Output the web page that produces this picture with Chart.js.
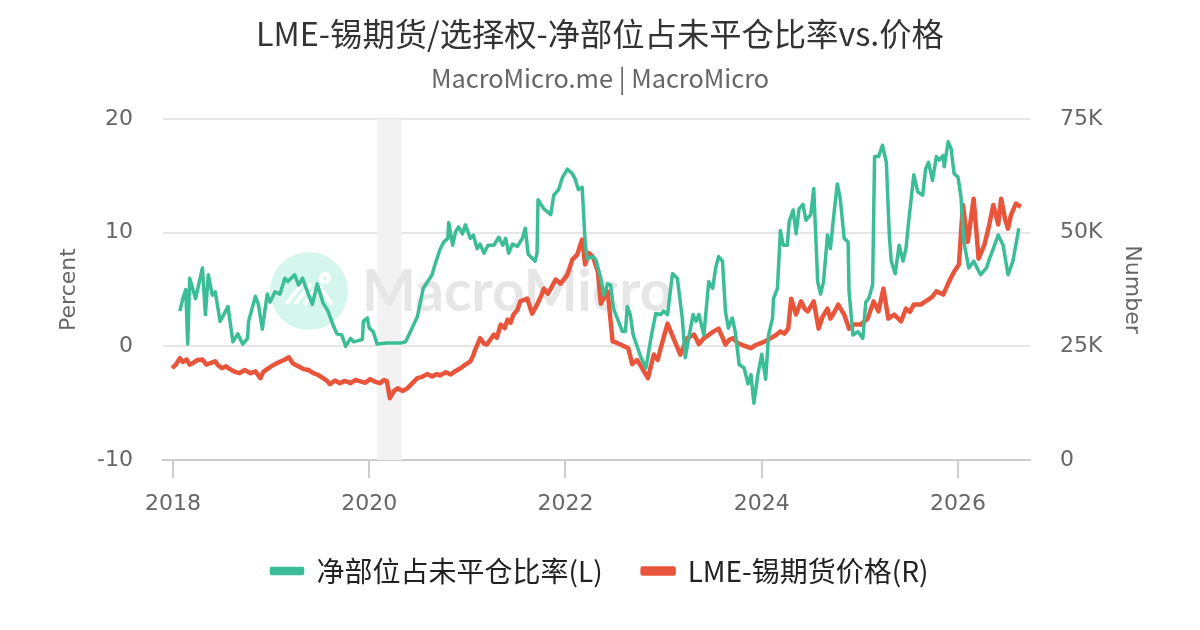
<!DOCTYPE html>
<html>
<head>
<meta charset="utf-8">
<script src="https://cdn.jsdelivr.net/npm/chart.js@4.4.1/dist/chart.umd.min.js"></script>
<style>
  html, body { margin: 0; padding: 0; background: #fff; }
  #wrap { width: 1200px; height: 630px; position: relative; }
</style>
</head>
<body>
<div id="wrap"><canvas id="c" width="1200" height="630"></canvas></div>
<script>
// ---- Data (dates as decimal years) ----
const ratioDates = [2018.07,2018.10,2018.13,2018.15,2018.17,2018.20,2018.23,2018.30,2018.33,2018.36,2018.40,2018.43,2018.48,2018.56,2018.61,2018.66,2018.71,2018.76,2018.77,2018.84,2018.87,2018.91,2018.96,2018.99,2019.04,2019.09,2019.14,2019.17,2019.24,2019.28,2019.32,2019.37,2019.42,2019.47,2019.53,2019.58,2019.63,2019.67,2019.72,2019.76,2019.81,2019.84,2019.93,2019.94,2019.98,2020.00,2020.04,2020.08,2020.18,2020.32,2020.37,2020.42,2020.49,2020.55,2020.64,2020.67,2020.72,2020.76,2020.80,2020.81,2020.85,2020.88,2020.91,2020.95,2020.98,2021.03,2021.06,2021.10,2021.13,2021.17,2021.21,2021.27,2021.32,2021.36,2021.39,2021.42,2021.46,2021.51,2021.56,2021.59,2021.62,2021.69,2021.71,2021.72,2021.78,2021.85,2021.88,2021.93,2021.97,2022.02,2022.07,2022.10,2022.13,2022.17,2022.20,2022.22,2022.28,2022.31,2022.36,2022.39,2022.43,2022.46,2022.49,2022.54,2022.58,2022.61,2022.63,2022.66,2022.69,2022.77,2022.82,2022.87,2022.92,2022.97,2023.00,2023.04,2023.09,2023.14,2023.19,2023.22,2023.30,2023.33,2023.36,2023.41,2023.46,2023.50,2023.53,2023.56,2023.60,2023.63,2023.66,2023.70,2023.73,2023.77,2023.82,2023.86,2023.89,2023.92,2023.96,2024.00,2024.04,2024.07,2024.11,2024.12,2024.16,2024.19,2024.22,2024.26,2024.28,2024.32,2024.35,2024.38,2024.42,2024.45,2024.50,2024.53,2024.57,2024.60,2024.63,2024.67,2024.70,2024.73,2024.77,2024.80,2024.84,2024.88,2024.89,2024.93,2024.98,2025.03,2025.06,2025.09,2025.13,2025.15,2025.19,2025.23,2025.27,2025.30,2025.32,2025.36,2025.40,2025.44,2025.47,2025.50,2025.55,2025.59,2025.64,2025.67,2025.70,2025.74,2025.78,2025.81,2025.85,2025.86,2025.90,2025.93,2025.96,2026.00,2026.03,2026.06,2026.11,2026.16,2026.23,2026.29,2026.32,2026.36,2026.41,2026.46,2026.51,2026.56,2026.62];
const ratioValues = [3.1,4.2,5.0,0.2,6.0,5.1,4.2,6.9,2.8,6.3,4.5,4.8,2.2,3.5,0.4,1.1,0.2,0.7,2.2,4.4,3.7,1.5,4.6,3.9,4.8,4.6,6.0,5.7,6.3,5.4,6.0,4.8,3.7,5.5,3.8,3.1,1.9,1.1,1.0,0.0,0.7,0.4,0.6,2.2,2.5,1.6,1.3,0.2,0.3,0.3,0.4,1.3,2.6,5.1,6.3,7.2,8.5,9.2,9.5,10.9,8.9,10.1,10.5,9.9,10.7,9.5,9.8,8.6,9.0,8.2,8.9,8.9,9.6,8.9,9.5,8.2,9.0,8.8,9.5,10.4,8.1,7.5,8.2,12.9,12.1,11.6,13.3,13.8,14.9,15.6,15.2,14.7,13.8,14.0,9.2,7.7,7.9,7.6,6.0,4.5,5.5,5.4,3.3,2.2,1.3,1.3,3.5,2.8,1.0,-1.0,-1.9,0.7,2.9,2.8,3.1,2.8,6.4,6.0,2.5,-1.0,2.8,2.2,2.8,1.0,5.7,5.1,6.9,7.9,7.5,3.1,1.6,2.5,1.3,-1.6,-1.9,-3.3,-2.5,-5.0,-2.5,-0.7,-2.9,1.0,2.5,4.2,5.1,10.2,8.9,8.9,11.0,12.0,9.9,12.1,12.5,11.1,11.6,13.9,5.7,4.6,5.7,9.8,8.6,11.2,14.3,13.0,9.5,9.2,4.8,1.0,1.3,0.7,3.9,4.2,5.4,16.7,16.7,17.7,16.2,9.8,7.5,6.4,8.9,7.5,8.6,11.2,15.1,13.6,13.3,15.6,16.2,14.6,16.7,16.4,16.8,15.8,18.0,17.4,15.2,14.9,13.2,9.2,6.9,7.5,6.3,6.9,7.7,8.6,9.8,8.9,6.3,7.5,10.4];

const priceDates = [2017.99,2018.03,2018.07,2018.10,2018.14,2018.17,2018.20,2018.25,2018.30,2018.34,2018.38,2018.43,2018.46,2018.50,2018.54,2018.58,2018.63,2018.68,2018.73,2018.79,2018.84,2018.89,2018.92,2018.96,2019.00,2019.04,2019.09,2019.14,2019.18,2019.22,2019.27,2019.33,2019.38,2019.43,2019.48,2019.53,2019.57,2019.60,2019.65,2019.70,2019.75,2019.81,2019.86,2019.91,2019.96,2020.01,2020.06,2020.11,2020.15,2020.18,2020.21,2020.25,2020.29,2020.34,2020.39,2020.44,2020.49,2020.54,2020.59,2020.64,2020.69,2020.72,2020.78,2020.83,2020.88,2020.93,2020.98,2021.03,2021.06,2021.08,2021.13,2021.17,2021.20,2021.27,2021.30,2021.34,2021.38,2021.41,2021.44,2021.47,2021.51,2021.54,2021.61,2021.66,2021.71,2021.75,2021.78,2021.82,2021.85,2021.90,2021.95,2021.99,2022.02,2022.07,2022.12,2022.17,2022.20,2022.24,2022.28,2022.33,2022.36,2022.40,2022.43,2022.48,2022.52,2022.56,2022.60,2022.64,2022.68,2022.73,2022.77,2022.84,2022.90,2022.94,2022.97,2023.04,2023.10,2023.17,2023.24,2023.31,2023.36,2023.41,2023.46,2023.51,2023.56,2023.60,2023.63,2023.67,2023.71,2023.75,2023.79,2023.84,2023.89,2023.94,2023.99,2024.04,2024.09,2024.14,2024.19,2024.23,2024.27,2024.30,2024.35,2024.40,2024.44,2024.47,2024.53,2024.58,2024.62,2024.67,2024.70,2024.74,2024.78,2024.84,2024.89,2024.94,2025.01,2025.05,2025.08,2025.14,2025.19,2025.24,2025.29,2025.35,2025.42,2025.47,2025.51,2025.55,2025.62,2025.66,2025.70,2025.74,2025.78,2025.85,2025.91,2025.96,2026.01,2026.05,2026.10,2026.16,2026.21,2026.27,2026.31,2026.36,2026.41,2026.44,2026.48,2026.51,2026.54,2026.59,2026.64];
const priceValues = [20.2,21.0,22.4,21.6,22.1,21.0,21.3,22.0,22.1,21.0,21.3,21.7,20.8,20.2,20.6,20.0,19.4,19.1,19.8,19.1,19.5,18.0,19.4,20.0,20.6,21.1,21.6,22.1,22.6,21.3,20.7,20.0,19.8,19.1,18.7,18.0,17.4,16.7,17.5,16.9,17.4,16.9,17.6,17.3,17.0,17.8,17.2,16.9,17.6,17.3,13.6,15.1,15.8,15.2,15.8,16.9,18.0,18.3,18.9,18.4,18.9,18.6,19.3,18.8,19.6,20.2,21.0,21.7,23.0,24.3,26.8,25.6,25.4,27.6,26.9,29.8,29.0,30.9,30.2,32.0,33.0,34.9,35.5,32.2,34.2,36.0,37.7,36.6,37.7,39.7,38.8,39.9,40.8,44.1,45.2,48.5,43.0,45.5,44.7,41.4,34.4,36.0,37.1,26.1,25.8,25.4,25.0,24.6,21.1,22.0,20.6,18.0,23.2,22.0,24.6,30.0,26.8,23.2,26.8,27.6,25.5,26.8,27.5,28.3,28.9,27.0,25.4,26.5,26.8,25.8,25.4,25.0,24.6,25.3,25.7,26.2,26.8,27.4,28.3,27.8,28.9,35.5,32.0,34.9,33.2,32.7,34.9,28.9,31.5,33.3,31.1,32.5,34.2,32.0,28.9,29.8,29.8,30.6,31.1,34.9,32.7,37.7,31.1,32.0,30.5,33.3,32.6,34.2,34.2,34.8,35.3,36.0,37.1,36.4,39.3,41.4,43.0,56.1,48.0,57.5,44.3,47.4,50.9,56.1,51.8,57.5,53.0,50.9,53.9,56.4,55.7];

const yearTicks = [2018, 2020, 2022, 2024, 2026];
const leftTicks = [-10, 0, 10, 20];
const rightTicks = [0, 25000, 50000, 75000];
const recessions = [[2020.08, 2020.33]];

const GREEN = '#3bbd97';
const RED = '#e8553b';

const ratioData = ratioDates.map((d, i) => ({x: d, y: ratioValues[i]}));
const priceData = priceDates.map((d, i) => ({x: d, y: priceValues[i] * 1000}));

const backgroundPlugin = {
  id: 'mmBackground',
  beforeDatasetsDraw(chart) {
    const {ctx, chartArea, scales} = chart;
    ctx.save();
    // recession shading
    ctx.fillStyle = '#f2f2f2';
    recessions.forEach(([a, b]) => {
      const x1 = scales.x.getPixelForValue(a);
      const x2 = scales.x.getPixelForValue(b);
      ctx.fillRect(x1, chartArea.top, x2 - x1, chartArea.bottom - chartArea.top);
    });
    // watermark
    const cx = chartArea.left + 146, cy = chartArea.top + 172;
    ctx.fillStyle = '#d5f6ec';
    ctx.beginPath();
    ctx.arc(cx, cy, 39, 0, Math.PI * 2);
    ctx.fill();
    ctx.strokeStyle = '#ffffff';
    ctx.lineWidth = 4;
    ctx.lineCap = 'round';
    ctx.beginPath();
    ctx.moveTo(cx - 22, cy + 12); ctx.lineTo(cx - 8, cy - 6);
    ctx.moveTo(cx - 13, cy + 12); ctx.lineTo(cx + 1, cy - 6);
    ctx.moveTo(cx - 4, cy + 12); ctx.lineTo(cx + 10, cy - 6);
    ctx.moveTo(cx + 10, cy - 6); ctx.lineTo(cx + 22, cy + 12);
    ctx.stroke();
    ctx.beginPath();
    ctx.arc(cx + 16, cy - 13, 4, 0, Math.PI * 2);
    ctx.stroke();
    ctx.fillStyle = '#e6e6e6';
    ctx.font = 'bold 57px Lato';
    ctx.textBaseline = 'middle';
    ctx.textAlign = 'left';
    ctx.fillText('MacroMicro', cx + 53, cy + 2);
    ctx.restore();
  }
};

new Chart(document.getElementById('c'), {
  type: 'line',
  data: {
    datasets: [
      {
        label: '净部位占未平仓比率(L)',
        data: ratioData,
        yAxisID: 'yL',
        borderColor: GREEN,
        backgroundColor: GREEN,
        borderWidth: 3.5,
        pointRadius: 0,
        tension: 0,
        borderJoinStyle: 'round'
      },
      {
        label: 'LME-锡期货价格(R)',
        data: priceData,
        yAxisID: 'yR',
        borderColor: RED,
        backgroundColor: RED,
        borderWidth: 4.5,
        pointRadius: 0,
        tension: 0,
        borderJoinStyle: 'round'
      }
    ]
  },
  options: {
    responsive: false,
    animation: false,
    devicePixelRatio: 1,
    layout: { padding: { top: 0, bottom: 35, left: 0, right: 0 } },
    plugins: {
      title: {
        display: true,
        text: 'LME-锡期货/选择权-净部位占未平仓比率vs.价格',
        color: '#333333',
        font: { family: '"Noto Sans CJK SC", "Noto Sans"', size: 32.3, weight: 'normal' },
        padding: { top: 14, bottom: 0 }
      },
      subtitle: {
        display: true,
        text: 'MacroMicro.me | MacroMicro',
        color: '#666666',
        font: { family: '"Noto Sans CJK SC", "Noto Sans"', size: 25.3, weight: 'normal' },
        padding: { top: 10, bottom: 26 }
      },
      legend: {
        display: true,
        position: 'bottom',
        labels: {
          color: '#222222',
          font: { family: '"Noto Sans CJK SC", "Noto Sans"', size: 28 },
          boxWidth: 31,
          boxHeight: 5,
          padding: 40
        }
      },
      tooltip: { enabled: false }
    },
    scales: {
      x: {
        type: 'linear',
        min: 2017.898,
        max: 2026.734,
        afterBuildTicks(scale) { scale.ticks = yearTicks.map(v => ({ value: v })); },
        afterFit(scale) { scale.height = 57; },
        ticks: {
          color: '#666666',
          font: { family: '"DejaVu Sans"', size: 22 },
          padding: 13,
          maxRotation: 0,
          autoSkip: false,
          callback: v => String(v)
        },
        grid: { drawOnChartArea: false, drawTicks: true, tickLength: 18, color: '#cccccc', lineWidth: 2 },
        border: { display: true, color: '#cccccc', width: 2 }
      },
      yL: {
        position: 'left',
        min: -10,
        max: 20,
        afterBuildTicks(scale) { scale.ticks = leftTicks.map(v => ({ value: v })); },
        afterFit(scale) { scale.width = 163; },
        title: {
          display: true,
          text: 'Percent',
          color: '#666666',
          font: { family: '"DejaVu Sans"', size: 22 },
          padding: { top: 56, bottom: 0 }
        },
        ticks: {
          color: '#666666',
          font: { family: '"DejaVu Sans"', size: 22 },
          padding: 30
        },
        grid: { color: '#e6e6e6', lineWidth: 2, drawTicks: false },
        border: { display: false }
      },
      yR: {
        position: 'right',
        min: 0,
        max: 75000,
        afterBuildTicks(scale) { scale.ticks = rightTicks.map(v => ({ value: v })); },
        afterFit(scale) { scale.width = 170; },
        title: {
          display: true,
          text: 'Number',
          color: '#666666',
          font: { family: '"DejaVu Sans"', size: 22 },
          padding: { top: 55, bottom: 0 }
        },
        ticks: {
          color: '#666666',
          font: { family: '"DejaVu Sans"', size: 22 },
          padding: 30,
          callback: v => v === 0 ? '0' : (v / 1000) + 'K'
        },
        grid: { drawOnChartArea: false, drawTicks: false },
        border: { display: false }
      }
    }
  },
  plugins: [backgroundPlugin]
});
</script>
</body>
</html>
